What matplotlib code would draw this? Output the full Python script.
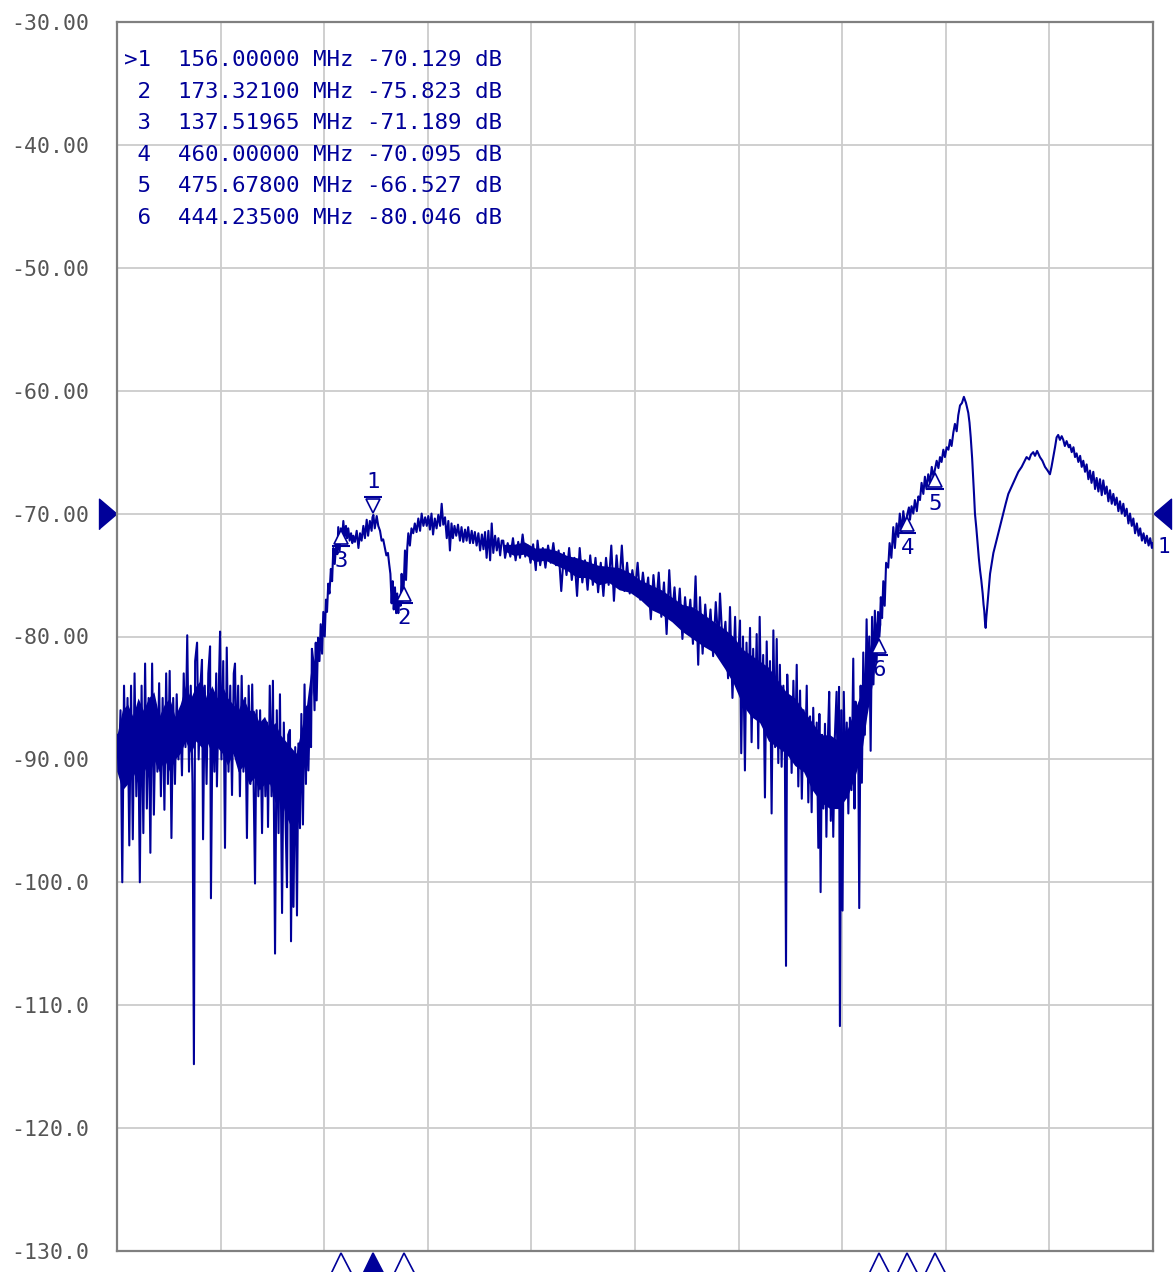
import matplotlib
matplotlib.use("Agg")
import matplotlib.pyplot as plt
from matplotlib.transforms import offset_copy, blended_transform_factory
import numpy as np

# trace: (MHz, dB), split by region
stopband_low = [
    (10, -88), (11, -91), (12, -86), (13, -100), (14, -84), (15, -92), (16, -85), (17, -97),
    (18, -84), (19, -96.5), (20, -83), (21, -93), (22, -86), (23, -100), (24, -84), (25, -96),
    (26, -82.2), (27, -94), (28, -85), (29, -97.6), (30, -82.2), (31, -94.5), (32, -86), (33, -91),
    (34, -83.8), (35, -93), (36, -85), (37, -94.1), (38, -83), (39, -92), (40, -82.8), (41, -96.4),
    (42, -85), (43, -92), (44, -84.7), (45, -90), (46, -86), (47, -91.3), (48, -83), (49, -89),
    (50, -79.9), (51, -91), (52, -84), (53, -92), (53.8, -114.8), (54.5, -82), (55.6, -80.5),
    (56.5, -90), (57.5, -84), (58.4, -81.9), (59, -96.5), (60, -84), (61, -92), (62, -83),
    (63, -80.8), (63.5, -101.3), (64.5, -85), (65.5, -91), (66.5, -83), (66.9, -92.2), (68, -84),
    (68.7, -79.6), (69.5, -90), (70.5, -82), (71.5, -97.2), (72.5, -80.9), (73.5, -91), (74.5, -84),
    (75.5, -92.9), (76.5, -83), (77.2, -82.2), (78, -90), (79, -84), (80, -93), (81, -83.2),
    (82, -91), (83, -85), (84, -96.4), (85, -84), (86, -92), (87, -83.9), (88, -94), (88.6, -100.1),
    (89.5, -86), (90.5, -93), (91.5, -86), (92.6, -96), (93.5, -87), (94.5, -93), (95.4, -87),
    (96, -95.5), (97, -84), (98, -93), (98.8, -83.6), (100, -105.8), (101, -86), (102, -96),
    (102.8, -84.7), (104, -102.5), (105, -87), (106, -95), (106.8, -100.4), (107.5, -88),
    (108.5, -87.6), (109.1, -104.8), (110, -90), (110.5, -102), (111.5, -89), (112.5, -102.7),
    (113.3, -88.7), (114.2, -95.6), (115, -86.3), (115.9, -95.3), (116.8, -83.9), (117.6, -92),
    (118.2, -85.7), (119, -90.9), (119.9, -85.5), (120.5, -89), (121, -81),
]

passband_low = [
    (121.8, -82), (122.5, -86), (123.2, -80.5), (123.7, -85.2), (124.5, -80.1), (125.3, -82),
    (126, -79), (126.8, -81.4), (127.5, -78), (128.3, -80), (129, -77), (129.6, -78),
    (130.3, -75.7), (131, -76.5), (131.8, -74.5), (132.5, -75.5), (133.2, -72.8), (134, -74.1),
    (134.8, -72.5), (135.5, -73.3), (136, -71.1), (136.8, -73), (137.5, -71.2), (138.2, -72),
    (138.9, -70.6), (139.6, -71.9), (140.4, -71), (141, -72), (141.7, -71.2), (142.5, -72.2),
    (143.3, -71.6), (144, -72.4), (144.6, -71.8), (145.5, -72.3), (146.5, -71.4), (147.5, -72.8),
    (148.4, -71.6), (149.3, -72.2), (150.3, -71), (151.2, -72), (152.2, -70.5), (153, -71.8),
    (154, -70.6), (155, -71.4), (155.5, -70.3), (156, -70.1), (156.8, -71.2), (157.9, -70.2),
    (158.8, -71), (159.8, -71.4), (160.7, -72.2), (161.6, -72.1), (162.6, -72.8), (163.4, -73.4),
    (164.3, -73.2), (165, -74.1), (165.7, -74.9), (166.4, -77.3), (167, -75.5), (167.6, -77.8),
    (168.3, -76), (169, -78.1), (169.6, -76.5), (170.2, -78.1), (170.8, -76.8), (171.5, -77.5),
    (172.1, -74.9), (172.7, -77.1), (173.3, -75.8), (174, -73), (174.6, -75.4), (175.3, -72.8),
    (175.9, -71.6), (176.8, -72.6), (177.7, -71.2), (178.7, -71.6), (179.6, -70.8), (180.6, -71.5),
    (181.6, -70.4), (182.6, -71.4), (183.5, -70), (184.5, -71), (185.5, -70.3), (186.4, -71),
    (187.3, -70.2), (188.2, -71.3), (189.1, -70), (190, -71.7), (191, -70.4), (192, -71.2),
    (193, -70.1), (194, -71), (194.9, -69.2), (195.8, -70.9), (196.8, -70.3), (197.8, -72),
    (198.7, -70.6), (199.6, -73), (200.5, -70.8), (201.3, -72), (202.2, -71), (203.2, -71.8),
    (204.2, -70.9), (205.3, -72.2), (206.2, -71.1), (207.2, -72.3), (208.2, -71.3), (209.1, -72.2),
    (210, -71.1), (211, -72.4), (212, -71.4), (212.8, -72.4), (213.8, -71.5), (214.8, -72.6),
    (215.8, -71.6), (216.8, -73), (217.8, -71.7), (218.7, -72.9), (219.6, -71.5), (220.5, -73.6),
    (221.5, -71.4), (222.5, -73.8), (223.4, -70.8), (224.3, -73.2), (225.3, -71.8), (226.3, -73),
    (227.2, -72), (228.2, -73.4), (229.1, -72.2),
]

slope_mid = [
    (230, -72.2), (231, -73.6), (232.5, -72.4), (234, -73.5), (235.5, -72), (237, -73.8),
    (238.5, -72.3), (239.5, -73.6), (241, -71.7), (242.5, -73.5), (244, -72.6), (245.5, -74),
    (247, -72.5), (248.5, -74.6), (249.5, -72.2), (251, -74.2), (252.5, -72.8), (254, -74.4),
    (255.5, -72.6), (257, -74), (258.5, -72.4), (260, -74.2), (261.5, -73), (263, -76.3),
    (264.5, -73.2), (266, -75), (267.5, -72.8), (269, -75.4), (270.5, -73.6), (272, -76.7),
    (273.5, -72.8), (275, -75.6), (276.5, -73.8), (278, -76.2), (279.5, -73.4), (281, -75.8),
    (282.5, -73.6), (284, -76.4), (285.5, -74), (287, -76.7), (288.5, -73.6), (290, -75.8),
    (291.5, -72.6), (293, -77.1), (294.5, -73.4), (296, -76), (297.5, -72.6), (299, -76.3),
    (300.5, -74), (302, -76.5), (303.5, -74.6), (305, -76.2), (306.5, -74), (308, -77),
    (309.5, -74.8), (311, -76.8), (312.5, -75.2), (314, -78.6), (315.5, -75), (317, -77.6),
    (318.5, -74.8), (320, -78.4), (321.5, -75.6), (323, -79.8), (324.5, -74.6), (326, -78.6),
    (327.5, -76), (329, -79), (330.5, -76.1), (332, -80.2), (333.5, -76.8), (335, -79.4),
    (336.5, -77), (338, -80.6), (339.5, -75.1), (341, -82.3), (342, -76.8), (343.5, -81.4),
    (345, -77.4), (346.5, -80.4), (348, -77.8), (349.5, -81.6), (351, -77.2), (352.5, -80.6),
    (353.4, -76.5), (355, -81), (356.5, -78.8), (358, -83.4), (359.1, -77.6), (360.5, -85),
    (362, -78.4), (363, -84), (364.8, -78.7), (365.5, -89.5), (366.5, -80), (367.6, -90.9),
    (368.5, -80.5), (369.5, -86), (370.5, -79.3), (371.4, -88.6), (372.3, -81), (373.3, -86.5),
    (374.3, -79.8), (375.2, -89.1), (376, -78.4), (377, -87), (378, -81.5), (379, -93.1),
    (380, -80.4), (381, -88), (381.9, -82), (382.8, -94.4), (383.8, -79.5), (384.8, -89),
    (385.7, -80.2), (386.6, -90.3), (387.5, -82.3), (388.5, -90.6), (389.5, -84), (390.3, -88),
    (391, -106.8), (391.7, -83.1), (392.6, -89), (393.4, -85), (394.2, -91.1), (395.2, -83.6),
    (396.2, -89.5), (397.1, -82.3), (398, -92.2), (399, -84.4), (400, -93.2), (401, -86),
    (401.9, -90), (402.8, -84), (403.7, -93.5), (404.7, -86.5), (405.6, -94.3), (406.5, -85.8),
    (407.5, -92), (408.5, -87), (409.4, -97.2), (410, -86.3), (410.7, -100.8), (411.5, -88),
    (412.3, -94), (413.2, -87.1), (414, -96.3), (414.8, -88.5), (415.6, -84.5), (416.5, -95),
    (417.3, -89), (417.9, -96.3), (418.8, -88.2), (419.8, -84.5), (420.6, -93.9), (421.2, -84.1),
    (421.7, -111.7), (422.5, -86), (423.2, -102.3), (423.9, -84.5), (424.8, -92), (425.6, -87),
    (426.5, -94.4), (427.4, -86.6), (428.3, -92.5), (429.3, -81.8), (430, -94), (430.6, -85.3),
    (431.2, -88.6), (432, -85.8), (432.7, -102.1), (433.5, -84), (434.2, -91.9), (435, -81.3),
    (435.9, -88), (436.9, -78.6), (437.6, -84.7), (438.4, -80), (439.2, -89.3), (440, -78.4),
    (440.8, -83.9), (441.6, -77.9), (442.6, -82), (443.4, -78), (444.2, -80), (445, -76.8),
    (445.7, -78.5),
]

upper_band = [
    (446.4, -75.5), (447.2, -77.5), (448, -74), (449.2, -74.4), (450, -72.4), (451, -73.6),
    (452.1, -71.1), (453, -72.8), (454, -70.8), (454.9, -71.9), (455.8, -70), (456.8, -71.5),
    (457.8, -69.8), (458.8, -71), (460, -70.1), (461, -69.5), (461.6, -70.5), (462.5, -69.4),
    (463.5, -70), (464.4, -68.9), (465.5, -69.8), (466.4, -68.6), (467.3, -68.9), (468.2, -67.5),
    (469.2, -68.4), (470.1, -67), (471, -68), (472, -66.8), (473, -67.5), (474, -66.2),
    (475, -67), (475.7, -66.5), (476.8, -65.7), (477.8, -66.3), (478.7, -65.4), (479.6, -65.8),
    (480.6, -64.8), (481.5, -65.4), (482.5, -64.6), (483.5, -64.8), (484.4, -64), (485.3, -64.5),
    (486.3, -63.4), (487.2, -62.7), (488.2, -63.3), (489.1, -62), (490.1, -61.2), (491.2, -61),
    (492.3, -60.5), (493.5, -61), (494.8, -61.8), (495.5, -62.6), (496.2, -63.8), (497, -65.5),
    (497.6, -67.1), (498.1, -68.5), (498.6, -70), (499.4, -71.2), (500.1, -72.4), (500.8, -73.6),
    (501.5, -74.6), (502.2, -75.4), (503, -76.5), (503.5, -77.4), (503.9, -77.9), (504.3, -78.8),
    (504.7, -79.3), (505.1, -78.4), (505.6, -77.6), (506.4, -76.2), (507.2, -74.9), (508.2, -74),
    (509.1, -73.2), (510.5, -72.4), (511.9, -71.6), (513.3, -70.8), (514.7, -70), (516.1, -69.2),
    (517.6, -68.4), (519.5, -67.8), (521.4, -67.2), (523.3, -66.6), (525.2, -66.2), (526.6, -65.8),
    (528, -65.4), (529.5, -65.6), (530.5, -65.2), (531.8, -65), (532.8, -65.3), (534, -64.9),
    (535.6, -65.4), (537, -65.7), (538.5, -66.2), (540, -66.5), (541.3, -66.8), (542.2, -66.2),
    (543.2, -65.4), (544.2, -64.6), (545.1, -63.8), (546, -63.6), (547, -64), (548, -63.7),
    (548.9, -64), (549.8, -64.5), (550.8, -64.1), (552, -64.6), (552.7, -64.4), (553.7, -65),
    (554.7, -64.6), (555.6, -65.4), (556.5, -65.1), (557.5, -65.8), (558.5, -65.3), (559.4, -66.2),
    (560.3, -65.7), (561.3, -66.6), (562.2, -66), (563.2, -67.2), (564.1, -66.5), (565, -67.5),
    (566, -66.6), (567, -68), (567.9, -67.1), (568.9, -68.2), (569.8, -67.2), (570.8, -68.5),
    (571.7, -67.3), (572.7, -68.4), (573.6, -67.8), (574.6, -69), (575.5, -68.1), (576.5, -69.2),
    (577.4, -68.4), (578.4, -69.3), (579.3, -68.7), (580.3, -69.8), (581.2, -69), (582.2, -70),
    (583.1, -69.2), (584, -70.2), (585, -69.6), (586, -70.8), (586.9, -70), (587.9, -71),
    (588.8, -70.4), (589.8, -71.6), (590.8, -70.8), (591.8, -71.8), (592.7, -71.2), (593.7, -72.2),
    (594.6, -71.6), (595.6, -72.4), (596.5, -71.8), (597.5, -72.6), (598.4, -72), (599.4, -72.8),
    (600, -72.4),
]

# solid part of the noise band where sweep points overlap: (MHz, top dB, bottom dB)
stopband_core = [
    (10, -88, -91), (13, -86, -92.5), (16, -85.5, -92), (19, -86.5, -91), (22, -85, -92),
    (25, -86, -90.5), (28, -85, -91.5), (31, -84.5, -90), (34, -86.5, -91), (37, -85.5, -90),
    (40, -85, -91), (43, -86.5, -90), (46, -85.5, -89.5), (49, -84, -88.5), (52, -85, -89.5),
    (55, -84, -88.5), (58, -83.5, -89), (61, -85, -88.5), (64, -84, -89.5), (67, -85, -89),
    (70, -84, -89.5), (73, -85, -90.5), (76, -85.5, -89.5), (79, -86, -91), (82, -85, -90.5),
    (85, -86, -92), (88, -86, -91.5), (91, -87, -92.5), (94, -86.5, -92), (97, -87.5, -92),
    (100, -87, -93.5), (103, -88, -93), (106, -88.5, -94.5), (109, -89, -95.5), (112, -89.5, -95),
    (115, -87.5, -92), (118, -85.5, -89), (121, -82, -84.5),
]
slope_core = [
    (230, -72.5, -73.0), (236, -72.5, -73.4), (242, -72.3, -73.3), (248, -72.8, -73.9),
    (254, -72.8, -73.8), (260, -73, -74.2), (266, -73.4, -74.6), (272, -73.6, -75.2),
    (278, -73.9, -75.2), (284, -74.2, -75.8), (290, -74.3, -75.6), (296, -74.4, -76.2),
    (302, -74.8, -76.4), (308, -75.4, -77), (314, -75.8, -77.8), (320, -76.2, -78.2),
    (326, -76.8, -78.8), (332, -77.4, -79.6), (338, -77.6, -80.2), (344, -78.2, -80.8),
    (350, -78.8, -81.3), (356, -79.4, -82.6), (361, -80, -83.8), (366, -81, -85.5),
    (371, -81.5, -86.5), (376, -82, -87), (381, -82.5, -88.5), (386, -83.5, -89),
    (391, -84.5, -89.5), (396, -85, -90.5), (401, -86, -91), (406, -87, -92.5),
    (411, -88, -93.5), (416, -88, -94), (421, -88.5, -94), (426, -87.5, -93),
    (430, -86, -91.5), (434, -84.5, -89.5), (437, -82, -86.5), (440, -80, -84),
    (443, -78.5, -81), (445, -77.5, -79),
]

marker_ids = ["1", "2", "3", "4", "5", "6"]
marker_freq = [156.0, 173.321, 137.51965, 460.0, 475.678, 444.235]
marker_db = [-70.129, -75.823, -71.189, -70.095, -66.527, -80.046]
active_marker = 0

f_start, f_stop = 10, 600
ref_level = -70
y_ticks = list(range(-30, -131, -10))
y_tick_labels = ["-30.00", "-40.00", "-50.00", "-60.00", "-70.00", "-80.00", "-90.00",
                 "-100.0", "-110.0", "-120.0", "-130.0"]

navy = "#000099"
mono = "DejaVu Sans Mono"

trace = np.array(stopband_low + passband_low + slope_mid + upper_band)

fig = plt.figure(figsize=(11.73, 12.72), dpi=100)
ax = fig.add_axes([117 / 1173, 21 / 1272, 1036 / 1173, 1229 / 1272])

ax.plot(trace[:, 0], trace[:, 1], color=navy, lw=1.5, zorder=3)
for core in (stopband_core, slope_core):
    c = np.array(core)
    ax.fill_between(c[:, 0], c[:, 1], c[:, 2], color=navy, lw=0, zorder=3)

ax.set_xlim(f_start, f_stop)
ax.set_ylim(-130, -30)
ax.set_xticks(np.linspace(f_start, f_stop, 11))
ax.set_xticklabels([])
ax.set_yticks(y_ticks)
ax.set_yticklabels(y_tick_labels, fontfamily=mono, fontsize=15.5, color="#555555")
for lbl in ax.get_yticklabels():
    lbl.set_horizontalalignment("left")
ax.tick_params(axis="both", length=0)
ax.tick_params(axis="y", pad=76)
ax.grid(True, color="#cccccc", lw=1.3)
for sp in ax.spines.values():
    sp.set_color("#808080")
    sp.set_linewidth(1.6)

# marker readout table
for i, (mid, mf, md) in enumerate(zip(marker_ids, marker_freq, marker_db)):
    prefix = ">" if i == active_marker else " "
    line = f"{prefix}{mid}  {mf:9.5f} MHz {md:.3f} dB"
    ax.text(0.0068, 0.969 - i * 31.6 / 1229, line, transform=ax.transAxes,
            fontfamily=mono, fontsize=16.2, color=navy, va="center", ha="left")

# markers on the trace
for i, (mid, mf, md) in enumerate(zip(marker_ids, marker_freq, marker_db)):
    if i == active_marker:
        sgn, tri = 1, "v"
    else:
        sgn, tri = -1, "^"
    tr_tri = offset_copy(ax.transData, fig=fig, x=0, y=sgn * 9, units="dots")
    tr_bar = offset_copy(ax.transData, fig=fig, x=0, y=sgn * 18, units="dots")
    ax.plot([mf], [md], marker=tri, ms=10, mfc="white", mec=navy, mew=1.2,
            transform=tr_tri, zorder=4)
    ax.plot([mf], [md], marker="_", ms=13, mec=navy, mew=1.5, transform=tr_bar, zorder=4)
    ax.annotate(mid, (mf, md), xytext=(0, sgn * 33), textcoords="offset pixels",
                ha="center", va="center", fontfamily=mono, fontsize=16, color=navy, zorder=5)

# trace id at the right end
ax.annotate("1", (trace[-1, 0], trace[-1, 1]), xytext=(4, -4), textcoords="offset pixels",
            ha="left", va="center", fontfamily=mono, fontsize=15, color=navy,
            annotation_clip=False)

# marker positions below the grid
bottom = blended_transform_factory(ax.transData, ax.transAxes)
bottom = offset_copy(bottom, fig=fig, x=0, y=-14, units="dots")
for i, mf in enumerate(marker_freq):
    fc = navy if i == active_marker else "white"
    ax.plot([mf], [0], marker="^", ms=18, mfc=fc, mec=navy, mew=1.2,
            transform=bottom, clip_on=False, zorder=5)

# reference level arrows at both sides
ref_left = offset_copy(blended_transform_factory(ax.transAxes, ax.transData),
                       fig=fig, x=-9, y=0, units="dots")
ref_right = offset_copy(blended_transform_factory(ax.transAxes, ax.transData),
                        fig=fig, x=9, y=0, units="dots")
ax.plot([0], [ref_level], marker=[(-1, -1.7), (-1, 1.7), (1, 0)], ms=22, color=navy,
        transform=ref_left, clip_on=False)
ax.plot([1], [ref_level], marker=[(1, -1.7), (1, 1.7), (-1, 0)], ms=22, color=navy,
        transform=ref_right, clip_on=False)

fig.savefig("out.png", dpi=100)
